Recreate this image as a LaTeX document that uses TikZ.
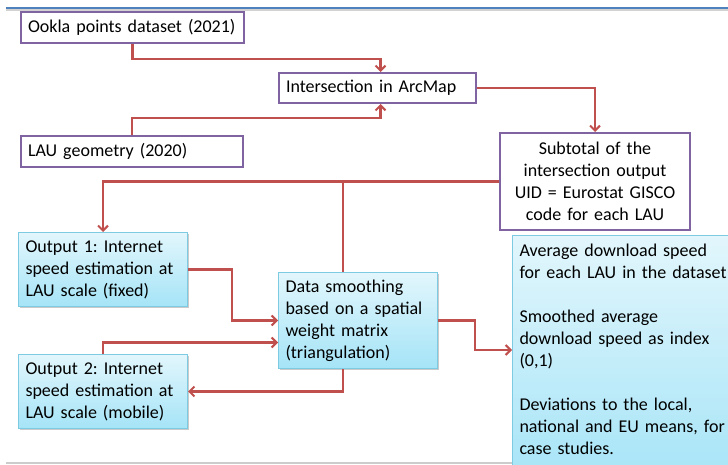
\documentclass[tikz,border=0pt]{standalone}
\usepackage{fontspec}
\setmainfont{Carlito}
\frenchspacing
\usetikzlibrary{arrows.meta,shadows}
\definecolor{purp}{HTML}{8064A2}
\definecolor{redl}{HTML}{C0504D}
\definecolor{bluetop}{HTML}{E2F6FC}
\definecolor{bluebot}{HTML}{A5E4F7}
\definecolor{blueborder}{HTML}{7CCBE2}
\definecolor{topline}{HTML}{4F81BD}
\begin{document}
\frenchspacing
\begin{tikzpicture}[x=1pt,y=-1pt,
  every node/.style={font=\fontsize{18}{22}\selectfont},
  pbox/.style={draw=purp,line width=2pt,fill=white,inner sep=0pt,anchor=north west},
  bbox/.style={draw=blueborder,line width=1pt,top color=bluetop,bottom color=bluebot,
     inner sep=0pt,anchor=north west,
     drop shadow={shadow xshift=1.5pt,shadow yshift=-1.5pt,opacity=0.35,fill=black!60}},
  conn/.style={draw=redl,line width=2.2pt},
  arr/.style={conn,-{Straight Barb[length=5pt,width=10pt,line width=2pt]}}
]
\useasboundingbox (0,0) rectangle (728,465);
% frame lines
\draw[gray!35,line width=1.5pt] (6,10) -- (728,10);
\draw[topline,line width=1.4pt] (6,8) -- (728,8);
\draw[gray!40,line width=1.2pt] (6,463) -- (512,463);

% purple boxes
\node[pbox,minimum width=223pt,minimum height=31pt,text width=209pt,align=left,inner xsep=7pt] (ookla) at (20,11) {Ookla points dataset (2021)};
\node[pbox,minimum width=197pt,minimum height=30pt,text width=183pt,align=left,inner xsep=7pt] (inter) at (278,72) {Intersection in ArcMap};
\node[pbox,minimum width=222pt,minimum height=31pt,text width=208pt,align=left,inner xsep=7pt] (lau) at (20,135) {LAU geometry (2020)};
\node[pbox,minimum width=190pt,minimum height=97pt,text width=180pt,align=center,inner xsep=5pt] (sub) at (499,132) {Subtotal of the\\intersection output\\UID = Eurostat GISCO\\code for each LAU};

% blue boxes
\node[bbox,minimum width=169pt,minimum height=74pt,text width=155pt,align=left,inner xsep=7pt] (out1) at (18,232) {Output 1: Internet\\speed estimation at\\LAU scale (fixed)};
\node[bbox,minimum width=169pt,minimum height=74pt,text width=155pt,align=left,inner xsep=7pt] (out2) at (18,354) {Output 2: Internet\\speed estimation at\\LAU scale (mobile)};
\node[bbox,minimum width=159pt,minimum height=96pt,text width=145pt,align=left,inner xsep=7pt] (smooth) at (278,272) {Data smoothing\\based on a spatial\\weight matrix\\(triangulation)};
\node[bbox,text width=220pt,align=left,inner xsep=7pt,inner ysep=9pt] (rb) at (512,235) {Average download speed\\for each LAU in the dataset\\[22pt]Smoothed average\\download speed as index\\(0,1)\\[22pt]Deviations to the local,\\national and EU means, for\\case studies.\\\mbox{}};

% connectors
\coordinate (bx) at (343,0);
\coordinate (j1) at (232,0);
\coordinate (j3) at (475,350);
\draw[arr] (ookla.south) -- ++(0,15) -| ([xshift=3pt]inter.north);
\draw[arr] (lau.north) -- ++(0,-17) -| ([xshift=3pt]inter.south);
\draw[arr] (inter.east) -| (sub.north);
\draw[arr] (sub.west) -| (out1.north);
\draw[conn] (sub.west -| bx) -- (smooth.north -| bx);
\draw[arr] (out1.east) -| (j1 |- smooth.west) -- (smooth.west);
\draw[arr] (out2.north) |- ([yshift=-22pt]smooth.west);
\draw[arr] (smooth.south -| bx) |- (out2.east);
\draw[arr] (smooth.east) -| (j3) -- (j3 -| rb.west);
\end{tikzpicture}
\end{document}
